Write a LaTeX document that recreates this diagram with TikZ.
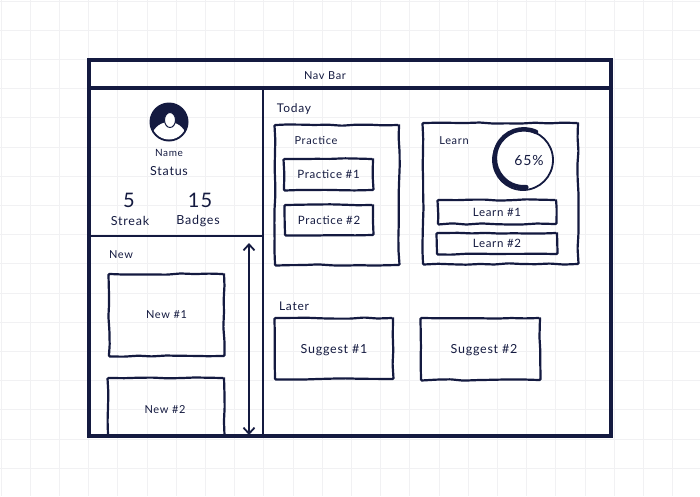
\documentclass[tikz,border=0pt]{standalone}
\usepackage{fontspec}
\setmainfont[LetterSpace=6]{Lato}
\usepackage{tikz}
\usetikzlibrary{arrows.meta,positioning,shapes.geometric,decorations.pathmorphing}
\definecolor{ink}{HTML}{141A40}
\definecolor{gridline}{HTML}{F1F1F3}

\begin{document}
\begin{tikzpicture}[x=1pt, y=-1pt, node distance=6pt, ink, font=\fontsize{11}{13}\selectfont]
	\tikzstyle{sketch} = [draw, line width=2.2pt, inner sep=0pt, outer sep=0pt, rounded corners=1pt, decorate, decoration={random steps, segment length=14pt, amplitude=0.7pt}]
	\tikzstyle{panel} = [sketch, anchor=north west]
	\tikzstyle{label} = [inner sep=0pt]
	\pgfmathsetseed{42}

	\useasboundingbox (0,0) rectangle (700,496);
	\foreach \x in {1,30.2,...,700} \draw[gridline, line width=0.8pt] (\x,0) -- (\x,496);
	\foreach \y in {1,30.2,...,496} \draw[gridline, line width=0.8pt] (0,\y) -- (700,\y);

	\node[draw, line width=3.2pt, outer sep=0pt, anchor=north west, minimum width=522pt, minimum height=376pt](frame) at (89,60) {};
	\node[draw, line width=3.2pt, outer sep=0pt, anchor=north west, minimum width=522pt, minimum height=28pt](nav) at (89,60) {};
	\node[label](navtitle) at (325,76) {Nav Bar};

	% side column
	\coordinate (split top) at (263,88);
	\coordinate (split bottom) at (263,436);
	\coordinate (side left) at (89,236);
	\coordinate (side right) at (263,236);
	\coordinate (scroll top) at (249,243);
	\coordinate (scroll bottom) at (249,435);
	\draw[line width=2.4pt] (split top) -- (split bottom);
	\draw[line width=2pt] (side left) -- (side right);
	\draw[{Straight Barb[length=6pt,width=11pt]}-{Straight Barb[length=6pt,width=11pt]}, line width=1.8pt] (scroll top) -- (scroll bottom);

	\node[circle, fill=ink, inner sep=0pt, minimum size=39pt](avatar) at (169,122) {};
	\begin{scope}
		\path[clip] (169,122) circle[radius=17.5pt];
		\node[circle, fill=white, inner sep=0pt, minimum width=36pt, minimum height=30pt](shoulders) at (169,140) {};
	\end{scope}
	\node[ellipse, fill=white, inner sep=0pt, minimum width=11pt, minimum height=15pt, draw=ink, line width=1pt](head) at (170,120) {};
	\node[label, font=\fontsize{10}{12}\selectfont](name) at (169,153) {Name};
	\node[label, below =of name, yshift=-3pt, font=\fontsize{12.5}{14}\selectfont](status) {Status};
	\node[label, font=\fontsize{20}{22}\selectfont](streakvalue) at (129,200) {5};
	\node[label, font=\fontsize{20}{22}\selectfont](badgesvalue) at (200,200) {15};
	\node[label, font=\fontsize{12.5}{14}\selectfont](streak) at (130,221) {Streak};
	\node[label, font=\fontsize{12.5}{14}\selectfont](badges) at (198,221) {Badges};

	\node[label](newtitle) at (121,255) {New};
	\node[panel, minimum width=115pt, minimum height=82pt](new1) at (109,274) {New \#1};
	\node[panel, minimum width=116pt, minimum height=58pt](new2) at (108,378) {};
	\node[label](new2title) at (165,410) {New \#2};

	% today
	\node[label, font=\fontsize{12}{14}\selectfont](today) at (294,109) {Today};
	\node[panel, minimum width=124pt, minimum height=140pt](practice) at (275,125) {};
	\node[label](practicetitle) at (316,141) {Practice};
	\node[panel, minimum width=89pt, minimum height=31pt, font=\fontsize{11.5}{13}\selectfont](practice1) at (284,159) {Practice \#1};
	\node[panel, minimum width=88pt, minimum height=30pt, font=\fontsize{11.5}{13}\selectfont](practice2) at (285,205) {Practice \#2};

	\node[panel, minimum width=155pt, minimum height=141pt](learn) at (423,123) {};
	\node[label](learntitle) at (454,141) {Learn};
	\node[circle, draw, line width=1.8pt, inner sep=0pt, minimum size=60pt](ring) at (523,160) {};
	\node[label, font=\fontsize{14}{16}\selectfont](percent) at (529,160) {65\%};
	\draw[line width=4.5pt, line cap=round] (ring.65) arc[start angle=65, end angle=275, radius=29pt];
	\node[panel, minimum width=118pt, minimum height=24pt, font=\fontsize{11.5}{13}\selectfont](learn1) at (438,200) {Learn \#1};
	\node[panel, minimum width=120pt, minimum height=21pt, font=\fontsize{11.5}{13}\selectfont](learn2) at (437,233) {Learn \#2};

	% later
	\node[label, font=\fontsize{12}{14}\selectfont](later) at (294,306) {Later};
	\node[panel, minimum width=118pt, minimum height=61pt](suggest1) at (275,318) {};
	\node[label, font=\fontsize{12.5}{14}\selectfont](suggest1title) at (334,350) {Suggest \#1};
	\node[panel, minimum width=119pt, minimum height=62pt](suggest2) at (421,318) {};
	\node[label, font=\fontsize{12.5}{14}\selectfont](suggest2title) at (484,350) {Suggest \#2};
\end{tikzpicture}
\end{document}
